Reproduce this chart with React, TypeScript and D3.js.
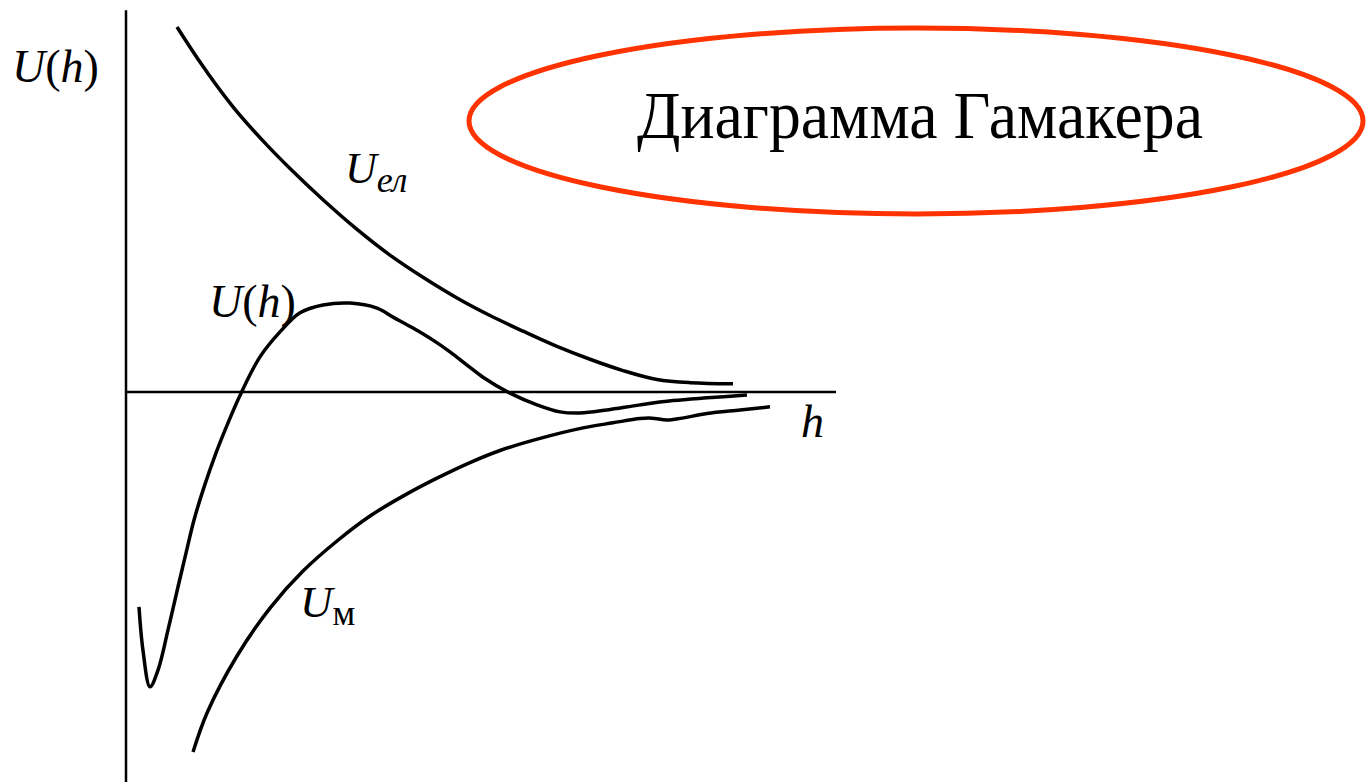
import React from "react";
import * as d3 from "d3";

// h in arbitrary units [0,100], U in arbitrary units [-100,100]
const uElH = [7.18, 10.42, 15.07, 19.86, 23.1, 27.75, 32.54, 37.18, 41.83, 46.62, 51.27, 55.92, 60.7, 65.35, 70.0, 74.79, 79.44, 85.49];
const uElU = [93.6, 84.6, 73.1, 63.3, 57.3, 49.3, 41.7, 35.1, 29.4, 24.1, 19.6, 15.6, 11.7, 8.4, 5.5, 3.2, 2.4, 2.1];

const uhH = [1.83, 2.39, 3.38, 4.51, 5.92, 7.32, 8.45, 9.58, 10.99, 12.68, 14.37, 16.2, 18.87, 21.69, 24.51, 27.75, 31.55, 35.35, 37.61, 40.42, 43.24, 45.63, 48.03, 50.28, 54.08, 57.89, 61.13, 63.94, 67.75, 72.39, 77.04, 81.83, 87.46];
const uhU = [-55.1, -66.2, -75.6, -71.3, -61.0, -50.0, -41.3, -32.8, -24.4, -15.6, -7.9, -0.3, 9.0, 15.4, 20.3, 22.3, 22.8, 21.5, 19.2, 16.4, 13.3, 10.3, 6.9, 3.8, -0.3, -3.3, -5.1, -5.4, -4.6, -3.3, -2.2, -1.5, -0.8];

const uMH = [9.44, 11.41, 15.63, 20.28, 24.93, 29.72, 34.37, 39.01, 43.8, 48.45, 52.68, 58.31, 64.37, 68.59, 72.39, 74.08, 76.2, 78.31, 81.83, 86.48, 90.7];
const uMU = [-92.3, -82.3, -67.7, -55.4, -45.9, -38.2, -31.8, -26.7, -22.1, -18.1, -15.0, -11.9, -9.2, -7.9, -6.8, -6.7, -7.2, -6.7, -5.5, -4.6, -3.8];

const title = "Диаграмма Гамакера";

const FS = { fontFamily: '"Liberation Serif"' };

export default function App() {
  const W = 1366;
  const H = 782;
  const x = d3.scaleLinear().domain([0, 100]).range([126, 836]);
  const y = d3.scaleLinear().domain([-100, 100]).range([782, 2]);

  const lineSmooth = d3
    .line<[number, number]>()
    .x((d) => x(d[0]))
    .y((d) => y(d[1]))
    .curve(d3.curveMonotoneX);
  const lineCR = d3
    .line<[number, number]>()
    .x((d) => x(d[0]))
    .y((d) => y(d[1]))
    .curve(d3.curveCatmullRom.alpha(0.5));

  const zip = (a: number[], b: number[]) => a.map((v, i) => [v, b[i]] as [number, number]);

  return (
    <svg
      width={W}
      height={H}
      style={{ position: "fixed", left: 0, top: 0, background: "#fff" }}
    >
      {/* axes */}
      <line x1={x(0)} x2={x(0)} y1={y(97.9)} y2={y(-100)} stroke="#000" strokeWidth={2.5} />
      <line x1={x(0)} x2={x(100)} y1={y(0)} y2={y(0)} stroke="#000" strokeWidth={2.5} />

      {/* curves */}
      <path d={lineSmooth(zip(uElH, uElU)) || ""} fill="none" stroke="#000" strokeWidth={3.5} />
      <path d={lineCR(zip(uhH, uhU)) || ""} fill="none" stroke="#000" strokeWidth={3.5} strokeLinejoin="round" />
      <path d={lineCR(zip(uMH, uMU)) || ""} fill="none" stroke="#000" strokeWidth={3.5} />

      {/* labels */}
      <text x={12} y={82} fontSize={46} style={FS}>
        <tspan fontStyle="italic">U</tspan>
        <tspan>(</tspan>
        <tspan fontStyle="italic">h</tspan>
        <tspan>)</tspan>
      </text>
      <text x={209} y={317} fontSize={46} style={FS}>
        <tspan fontStyle="italic">U</tspan>
        <tspan>(</tspan>
        <tspan fontStyle="italic">h</tspan>
        <tspan>)</tspan>
      </text>
      <text x={345} y={183} fontSize={44} fontStyle="italic" style={FS}>
        U
        <tspan fontSize={36} dy={9}>ел</tspan>
      </text>
      <text x={300} y={617} fontSize={45} style={FS}>
        <tspan fontStyle="italic">U</tspan>
        <tspan fontSize={36} dy={8}>м</tspan>
      </text>
      <text x={801} y={437} fontSize={46} fontStyle="italic" style={FS}>h</text>

      {/* title ellipse */}
      <ellipse cx={916} cy={121} rx={447} ry={93} fill="none" stroke="#ff3300" strokeWidth={5} />
      <text
        x={637}
        y={138}
        fontSize={67}
        textLength={566}
        lengthAdjust="spacingAndGlyphs"
        fill="#000"
        style={FS}
      >
        {title}
      </text>
    </svg>
  );
}
